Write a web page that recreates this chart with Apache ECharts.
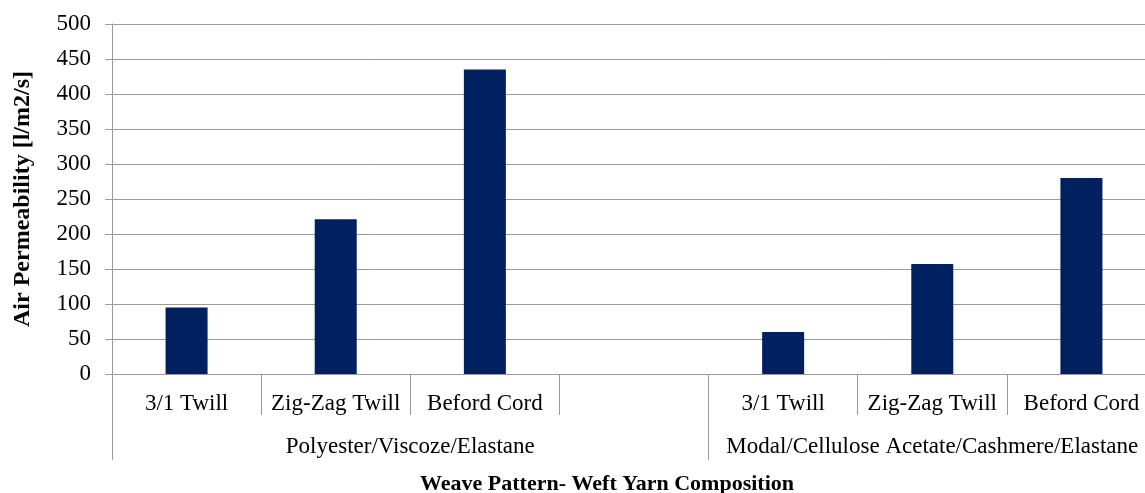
<!DOCTYPE html>
<html>
<head>
<meta charset="utf-8">
<script src="https://cdn.jsdelivr.net/npm/echarts@6/dist/echarts.min.js"></script>
<style>
html,body{margin:0;padding:0;background:#fff;}
#chart{width:1145px;height:493px;}
</style>
</head>
<body>
<div id="chart"></div>
<script>
// ---- data ----
var categories = ['3/1 Twill', 'Zig-Zag Twill', 'Beford Cord', '', '3/1 Twill', 'Zig-Zag Twill', 'Beford Cord'];
var values = [95, 221, 435, null, 60, 157, 280];
var groupNames = ['Polyester/Viscoze/Elastane', 'Modal/Cellulose Acetate/Cashmere/Elastane'];
var groupSizes = [4, 3];
var yTicks = [0, 50, 100, 150, 200, 250, 300, 350, 400, 450, 500];
var yTitle = 'Air Permeability [l/m2/s]';
var xTitle = 'Weave Pattern- Weft Yarn Composition';

// group boundaries / centres in category units
var bounds = [0], centres = [], labelMap = {};
groupSizes.forEach(function (n, i) {
  var start = bounds[bounds.length - 1];
  bounds.push(start + n);
  var c = start + n / 2;
  centres.push(c);
  labelMap[c] = groupNames[i];
});

var FONT = '"Liberation Serif", "Times New Roman", serif';
var GRAY = '#9a9a9a';

var chart = echarts.init(document.getElementById('chart'), null, {renderer: 'canvas'});
chart.setOption({
  animation: false,
  backgroundColor: '#fff',
  grid: {left: 112, right: -11, top: 24, bottom: 119, containLabel: false, outerBoundsMode: 'none'},
  xAxis: [
    {
      type: 'category',
      data: categories,
      position: 'bottom',
      axisLine: {show: true, lineStyle: {color: GRAY, width: 1}},
      axisTick: {show: true, length: 41, lineStyle: {color: GRAY, width: 1}},
      axisLabel: {margin: 18, color: '#000', fontFamily: FONT, fontSize: 23, interval: 0},
      splitLine: {show: false}
    },
    {
      type: 'value',
      min: 0,
      max: bounds[bounds.length - 1],
      position: 'bottom',
      offset: 41,
      axisLine: {show: false},
      axisTick: {show: true, length: 45, customValues: bounds, lineStyle: {color: GRAY, width: 1}},
      axisLabel: {
        show: true, margin: 20, color: '#000', fontFamily: FONT, fontSize: 23,
        customValues: centres,
        formatter: function (v) { return labelMap[v] || ''; }
      },
      splitLine: {show: false},
      name: xTitle,
      nameLocation: 'middle',
      nameGap: 58,
      nameTextStyle: {color: '#000', fontFamily: FONT, fontSize: 22, fontWeight: 'bold', padding: [0, 54, 0, 0]}
    }
  ],
  yAxis: {
    type: 'value',
    min: yTicks[0],
    max: yTicks[yTicks.length - 1],
    interval: yTicks[1] - yTicks[0],
    axisLine: {show: true, lineStyle: {color: GRAY, width: 1}},
    axisTick: {show: true, length: 7, lineStyle: {color: GRAY, width: 1}},
    axisLabel: {margin: 21, color: '#000', fontFamily: FONT, fontSize: 23},
    splitLine: {show: true, lineStyle: {color: GRAY, width: 1}},
    name: yTitle,
    nameLocation: 'middle',
    nameGap: 77,
    nameRotate: 90,
    nameTextStyle: {color: '#000', fontFamily: FONT, fontSize: 24, fontWeight: 'bold'}
  },
  series: [{
    type: 'bar',
    xAxisIndex: 0,
    data: values,
    barWidth: 42,
    itemStyle: {color: '#002060'}
  }]
});
</script>
</body>
</html>
